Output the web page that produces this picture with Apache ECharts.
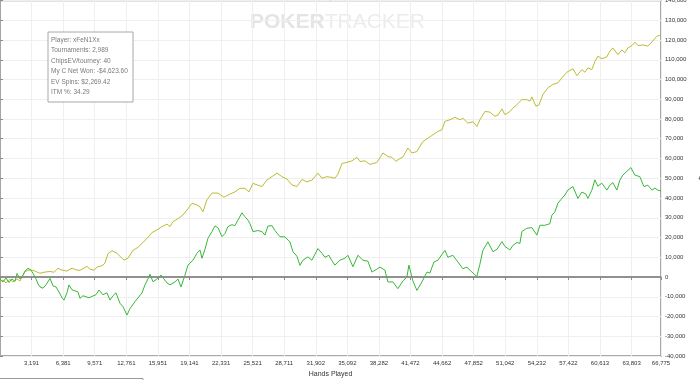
<!DOCTYPE html>
<html>
<head>
<meta charset="utf-8">
<script src="https://cdn.jsdelivr.net/npm/echarts@6/dist/echarts.min.js"></script>
<style>
html,body{margin:0;padding:0;background:#fff;}
#chart{width:700px;height:380px;}
</style>
</head>
<body>
<div id="chart"></div>
<script>
// X ticks (hands played) and the labelled ones
const handTicks = [0, 3191, 6381, 9571, 12761, 15951, 19141, 22331, 25521, 28711, 31902, 35092, 38282, 41472, 44662, 47852, 51042, 54232, 57422, 60613, 63803, 66775];
const handLabels = [3191, 6381, 9571, 12761, 15951, 19141, 22331, 25521, 28711, 31902, 35092, 38282, 41472, 44662, 47852, 51042, 54232, 57422, 60613, 63803, 66775];

// Net won (green)
const netHands = [0,303,606,909,1212,1515,1717,2020,2323,2525,2828,3131,3333,3636,3838,4040,4343,4646,5050,5353,5656,5959,6262,6464,6767,6969,7272,7575,7878,8080,8383,8686,8989,9292,9696,9999,10403,10807,11110,11413,11716,12120,12423,12827,13130,13332,13635,13837,14342,14645,14948,15150,15453,15857,16261,16564,16867,17170,17372,17675,17978,18281,18685,18988,19493,19897,20200,20402,20705,21008,21412,21715,22018,22422,22725,23028,23432,23735,24038,24442,24745,25048,25250,25553,26058,26462,26765,27068,27472,27775,28280,28785,29290,29593,29997,30300,30603,31108,31512,32118,32522,32825,33229,33532,33835,34340,34845,35148,35653,36158,36663,37168,37572,38077,38380,38885,39188,39693,40198,40703,41107,41309,41713,42117,42622,43127,43430,43834,44238,44945,45248,45753,46258,46763,47167,47672,48177,48480,48783,49288,49793,50197,50702,51005,51510,51813,52217,52520,52722,53227,53732,54237,54540,55045,55550,55752,56055,56358,56762,57065,57368,57873,58378,58782,59186,59388,59792,60095,60398,60802,61307,61610,61913,62317,62620,62923,63327,63731,64135,64640,65044,65448,65852,66155,66458,66775];
const netWon = [-1000,-2500,-500,-2800,-1000,-2200,1800,-1000,1000,3000,4400,3500,1900,-1000,-3500,-5000,-5700,-4000,-700,-4500,-5000,-7600,-10500,-11700,-8000,-4000,-6500,-7000,-7500,-10800,-9500,-10000,-10500,-9800,-9000,-6600,-9000,-8000,-11700,-9500,-8000,-13300,-15000,-19300,-16000,-15000,-12500,-11700,-8000,-4000,-1000,1400,-2400,-1000,1000,-1000,-3000,-4000,-3200,-2500,-1000,-5000,900,6000,8500,12000,13700,9500,14000,19600,23000,25900,25000,20400,22000,25500,26500,26000,28800,32500,30500,28800,27000,23000,23500,23000,21200,25800,26000,23500,20400,20300,17800,12800,10500,5900,8500,10200,8500,14400,12000,10000,11000,8200,6000,8500,9500,11000,5200,11000,8500,8000,2500,4000,5000,3500,-2500,-2500,-5900,-2000,0,6000,-2000,-6800,-2500,2500,2000,7600,8500,13500,10000,11000,7600,4200,5000,2500,300,6500,13500,17800,12800,14000,17900,15500,13700,16000,17500,17000,23000,24700,25000,21200,26200,26200,27000,31300,33000,37300,39800,41500,44000,45800,39800,43000,42000,39800,44000,49200,46000,47500,44000,46500,47800,44000,49000,51600,53500,55400,51600,50800,45800,46500,44000,45000,44000,43500];

// ChipsEV (yellow)
const evHands = [0,303,606,1010,1313,1717,2020,2222,2525,2828,3030,3333,3737,4040,4545,5050,5454,5858,6262,6767,7272,7676,8080,8484,8787,9090,9494,9797,10100,10403,10605,10908,11312,11817,12221,12524,12928,13130,13433,13938,14342,14847,15352,15857,16362,16867,17170,17473,17978,18483,18887,19392,19897,20200,20503,20907,21412,22018,22624,23230,23735,24240,24745,25149,25553,26058,26462,26967,27472,27977,28482,28987,29492,29997,30502,31007,31512,32118,32522,33027,33532,33835,34138,34542,35047,35552,36057,36360,36865,37370,37572,38077,38683,39188,39592,39996,40400,40703,41208,41612,42117,42319,42723,43228,43733,44238,44642,44945,45450,45955,46460,46763,47268,47773,48177,48480,48985,49490,49995,50298,50702,51005,51510,51813,52217,52722,53227,53530,53732,54136,54439,54843,55348,55853,56358,56762,57267,57873,58277,58782,59085,59388,59792,60095,60398,60802,61307,61610,61913,62418,62822,63125,63428,63832,64135,64438,64943,65448,65852,66357,66775];
const chipsEV = [-2400,-1500,-3000,-1200,-2500,-1000,-2000,-3000,2700,3500,3900,3400,2500,1900,2500,2800,2400,4400,3500,3000,4500,3600,3400,4500,5400,4000,3400,5000,5400,6000,7100,11800,13300,12000,10000,8500,9500,10500,13500,15000,17000,19500,22500,23800,25500,26800,25500,28000,29500,31400,33900,37300,36500,35500,33000,39100,42500,42500,40400,42000,43100,44900,44900,43100,47400,46500,45800,49100,50800,52600,50800,49600,46600,45800,49400,48200,49000,52600,50000,50800,50400,50000,52000,57500,58000,58800,60600,58500,58800,57000,56300,58000,62800,61000,60600,58500,60000,60800,65300,62800,63500,65300,68600,70300,72000,73700,74500,78800,79600,80900,79600,80400,77900,78600,76200,79600,83800,83500,81400,82000,85100,82200,83800,85500,87300,89800,89800,89000,91200,86500,87000,92400,95800,97500,98300,100800,103700,105400,102000,105000,103700,105900,105000,109200,111800,110500,111500,114300,116000,112600,115000,113500,116000,117200,118900,117200,117500,116900,119000,121900,122500];

const infoLines = ['Player: xFeN1Xx', 'Tournaments: 2,989', 'ChipsEV/tourney: 40', 'My C Net Won: -$4,623.60', 'EV Spins: $2,269.42', 'ITM %: 34.29'];

const FONT = '"Liberation Sans", Arial, sans-serif';
const chart = echarts.init(document.getElementById('chart'), null, {renderer: 'canvas'});

function pairs(xs, ys) { return xs.map((x, i) => [x, ys[i]]); }

const infoTexts = infoLines.map((t, i) => ({
  type: 'text', left: 51, top: 36.5 + i * 10.5, z: 11,
  style: {text: t, fill: '#7a7a7a', font: '6.5px ' + FONT}
}));

chart.setOption({
  animation: false,
  backgroundColor: '#ffffff',
  grid: {left: 0, right: 39, top: 0.5, bottom: 24, containLabel: false, outerBoundsMode: 'none',
    show: true, borderColor: '#8c8c8c', borderWidth: 1.5, backgroundColor: 'transparent'},
  xAxis: {
    type: 'value', min: 0, max: 66775,
    name: 'Hands Played', nameLocation: 'middle', nameGap: 14,
    nameTextStyle: {color: '#333', fontSize: 7, fontFamily: FONT},
    axisLine: {show: true, lineStyle: {color: '#8c8c8c', width: 1.5}},
    axisTick: {show: true, length: 3, lineStyle: {color: '#8c8c8c'}, customValues: handTicks},
    axisLabel: {customValues: handLabels, color: '#333', fontSize: 6, fontFamily: FONT, margin: 4,
      hideOverlap: false, formatter: v => v.toLocaleString('en-US')},
    splitLine: {show: true, lineStyle: {color: '#efefef', width: 1}}
  },
  yAxis: {
    type: 'value', position: 'right', min: -40000, max: 140000, interval: 10000,
    name: '$', nameLocation: 'middle', nameGap: 26, nameRotate: -90,
    nameTextStyle: {color: '#333', fontSize: 7, fontFamily: FONT},
    axisLine: {show: true, lineStyle: {color: '#8c8c8c', width: 1.5}},
    axisTick: {show: true, length: 3, lineStyle: {color: '#8c8c8c'}},
    axisLabel: {color: '#333', fontSize: 6, fontFamily: FONT, margin: 4,
      formatter: v => v.toLocaleString('en-US')},
    splitLine: {show: true, lineStyle: {color: '#efefef', width: 1}}
  },
  series: [
    {
      name: 'ChipsEV', type: 'line', data: pairs(evHands, chipsEV), showSymbol: false,
      lineStyle: {color: '#bcbc33', width: 1}, z: 3,
      markLine: {silent: true, symbol: ['none', 'none'], label: {show: false},
        lineStyle: {color: '#8a8a8a', width: 1.5, type: 'solid'}, data: [{yAxis: 0}]}
    },
    {
      name: 'Net Won', type: 'line', data: pairs(netHands, netWon), showSymbol: false,
      lineStyle: {color: '#37b837', width: 1}, z: 4
    }
  ],
  graphic: [
    {type: 'text', left: 250, top: 12, z: 0,
      style: {rich: {a: {font: 'bold 21px ' + FONT, fill: '#e4e4e4'}, b: {font: '21px ' + FONT, fill: '#ececec'}},
        text: '{a|POKER}{b|TRACKER}'}},
    {type: 'rect', shape: {x: 48, y: 32, width: 85, height: 70}, style: {fill: '#ffffff', stroke: '#a8a8a8', lineWidth: 1}, z: 10},
    ...infoTexts,
    {type: 'rect', shape: {x: -1, y: 378.5, width: 144, height: 10}, style: {fill: '#ffffff', stroke: '#999', lineWidth: 1}, z: 10}
  ]
});
</script>
</body>
</html>
